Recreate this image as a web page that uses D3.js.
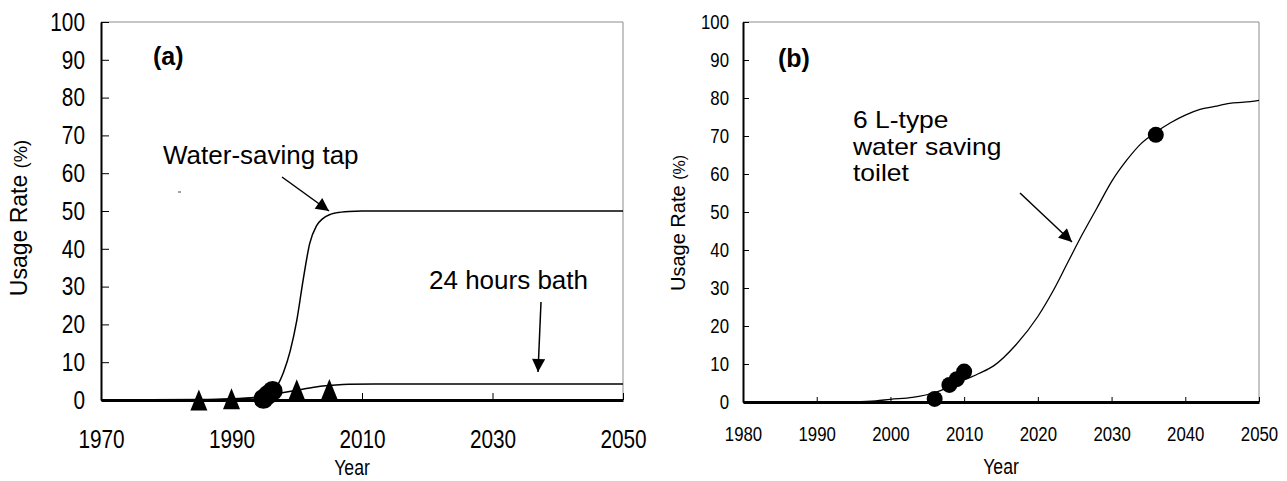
<!DOCTYPE html>
<html lang="en">
<head>
<meta charset="UTF-8">
<title>Usage rate of water saving devices</title>
<script src="https://d3js.org/d3.v7.min.js"></script>
<style>
    body{ margin:0; background:#fff; }
    svg{ display:block; font-family:"Liberation Sans",Arial,sans-serif; }
</style>
</head>
<body>
<script>
// panel (a): water-saving tap curve and observed points
const tapCurve = [[1970,0],[1985,0.05],[1990,0.2],[1993,0.5],[1995,1.2],[1996,2.0],[1997,3.8],[1998,7.5],[1999,13],
    [2000,21],[2001,32],[2002,41.5],[2003,46],[2004,48],[2005,49],[2006,49.5],[2008,49.9],[2010,50],[2050,50]];
const tapPoints = [[1994.9,0.3],[1995.6,1.4],[1996.3,2.4]];
// panel (a): 24 hours bath
const bathCurve = [[1970,0],[1985,0.1],[1990,0.3],[1995,1.0],[1998,2.0],[2000,2.6],[2002,3.2],[2004,3.7],
    [2006,4.0],[2008,4.15],[2012,4.2],[2050,4.2]];
const bathPoints = [[1985,0],[1990,0.3],[2000,2.7],[2005,2.8]];
// panel (b): 6 L-type toilet
const toiletCurve = [[1995,0],[1998,0.3],[2000,0.7],[2003,1.2],[2006,2.5],[2008,4.0],[2010,5.8],[2012,7.5],[2014,9.5],
    [2017,15],[2020,22.5],[2022,29],[2024,36.5],[2026,44],[2028,51],[2030,58],[2032,63.5],[2034,68],[2036,71],
    [2038,73.5],[2040,75.5],[2042,77],[2044,77.8],[2046,78.6],[2048,78.9],[2050,79.4]];
const toiletPoints = [[2006,0.8],[2008,4.5],[2009,6],[2010,8],[2036,70.3]];

const yTicks = [0,10,20,30,40,50,60,70,80,90,100];
const xTicksA = [1970,1990,2010,2030,2050];
const xTicksB = [1980,1990,2000,2010,2020,2030,2040,2050];
const toiletLabel = ["6 L-type","water saving","toilet"];

const W = 1287, H = 481;
const SX = 0.8; // condensed look of the tick digits
const svg = d3.select("body").append("svg").attr("width",W).attr("height",H);

function narrow(parent,x,y,str,fs){
    return parent.append("text").attr("transform","translate("+x+","+y+") scale("+SX+",1)")
        .attr("text-anchor","middle").attr("font-size",fs).text(str);
}

function panel(o){
    const x = d3.scaleLinear().domain(o.xDomain).range([o.left,o.right]);
    const y = d3.scaleLinear().domain([0,100]).range([o.bottom,o.top]);
    const g = svg.append("g");

    // grey frame top/right
    g.append("line").attr("x1",o.left).attr("x2",o.right).attr("y1",o.top).attr("y2",o.top)
        .attr("stroke","#8c8c8c").attr("stroke-width",1);
    g.append("line").attr("x1",o.right).attr("x2",o.right).attr("y1",o.top).attr("y2",o.bottom)
        .attr("stroke","#8c8c8c").attr("stroke-width",1);

    const ya = g.append("g").attr("transform","translate("+o.left+",0)")
        .call(d3.axisLeft(y).tickValues(yTicks).tickSize(-o.tick).tickSizeOuter(0));
    ya.select(".domain").attr("stroke-width",2);
    ya.selectAll("text").attr("x",-o.yPad/SX).attr("transform","scale("+SX+",1)")
        .attr("font-size",o.fs).attr("fill","#000");

    const xa = g.append("g").attr("transform","translate(0,"+o.bottom+")")
        .call(d3.axisBottom(x).tickValues(o.xTicks).tickFormat(d3.format("d")).tickSize(-o.tick+1).tickSizeOuter(0).tickPadding(o.xPad));
    xa.select(".domain").attr("stroke-width",3);
    xa.selectAll("text").attr("transform","scale("+SX+",1)")
        .attr("font-size",o.fs).attr("fill","#000");
    g.selectAll(".tick text").attr("font-family","Liberation Sans, Arial, sans-serif");

    narrow(g,o.yearX,o.yearY,"Year",o.titleFs);

    const yt = g.append("text").attr("font-size",o.yTitleFs)
        .attr("transform","translate("+o.yTitleX+","+o.yTitleY+") rotate(-90)").attr("text-anchor","middle");
    yt.append("tspan").text("Usage Rate ");
    yt.append("tspan").attr("font-size",o.yTitleFs*0.8).text("(%)");

    g.append("text").attr("font-weight","bold").attr("font-size",25)
        .attr("x",o.tagX).attr("y",o.tagY).text(o.tag);
    return {g,x,y};
}

const line = (x,y) => d3.line().x(d=>x(d[0])).y(d=>y(d[1])).curve(d3.curveMonotoneX);

svg.append("defs").append("marker").attr("id","ah").attr("viewBox","0 0 10 10").attr("refX",10).attr("refY",5)
    .attr("markerWidth",15).attr("markerHeight",13).attr("markerUnits","userSpaceOnUse").attr("orient","auto")
  .append("path").attr("d","M0,0L10,5L0,10Z").attr("fill","#000");

function arrow(x1,y1,x2,y2){
    svg.append("line").attr("x1",x1).attr("y1",y1).attr("x2",x2).attr("y2",y2)
        .attr("stroke","#000").attr("stroke-width",1.5).attr("marker-end","url(#ah)");
}

// ----- panel (a)
const A = panel({xDomain:[1970,2050],left:101,right:623,top:22,bottom:400,tick:8,yPad:16,xPad:30,fs:26,
    xTicks:xTicksA,titleFs:22,yearX:352,yearY:475,yTitleX:27,yTitleY:218,yTitleFs:23,tag:"(a)",tagX:153,tagY:65});

A.g.append("path").datum(tapCurve).attr("d",line(A.x,A.y)).attr("fill","none").attr("stroke","#000").attr("stroke-width",1.5);
A.g.append("path").datum(bathCurve).attr("d",line(A.x,A.y)).attr("fill","none").attr("stroke","#000").attr("stroke-width",1.5);

const tri = "M0,-10.5L8.5,10.5L-8.5,10.5Z";
A.g.selectAll(".tri").data(bathPoints).join("path").attr("class","tri")
    .attr("d",tri).attr("transform",d=>"translate("+A.x(d[0])+","+A.y(d[1])+")").attr("fill","#000");
A.g.selectAll(".dot").data(tapPoints).join("circle").attr("class","dot")
    .attr("cx",d=>A.x(d[0])).attr("cy",d=>A.y(d[1])).attr("r",10).attr("fill","#000");

A.g.append("text").attr("font-size",26).attr("x",163).attr("y",164).text("Water-saving tap");
arrow(282,177,329,211);
A.g.append("text").attr("font-size",26).attr("x",429).attr("y",289).text("24 hours bath");
arrow(541,302,538,372);
A.g.append("line").attr("x1",178).attr("x2",181).attr("y1",192).attr("y2",192).attr("stroke","#444");

// ----- panel (b)
const B = panel({xDomain:[1980,2050],left:743,right:1259,top:22,bottom:402,tick:6,yPad:14,xPad:24,fs:21,
    xTicks:xTicksB,titleFs:22,yearX:1001,yearY:474,yTitleX:685,yTitleY:223,yTitleFs:20,tag:"(b)",tagX:778,tagY:67});

B.g.append("path").datum(toiletCurve).attr("d",line(B.x,B.y)).attr("fill","none").attr("stroke","#000").attr("stroke-width",1.3);
B.g.selectAll(".dot").data(toiletPoints).join("circle").attr("class","dot")
    .attr("cx",d=>B.x(d[0])).attr("cy",d=>B.y(d[1])).attr("r",8).attr("fill","#000");

B.g.selectAll(".lab").data(toiletLabel).join("text").attr("class","lab").attr("font-size",23)
    .attr("transform",(d,i)=>"translate(853,"+(128+i*26.5)+") scale(1.15,1)").text(d=>d);
arrow(1020,193,1072,242);
</script>
</body>
</html>
